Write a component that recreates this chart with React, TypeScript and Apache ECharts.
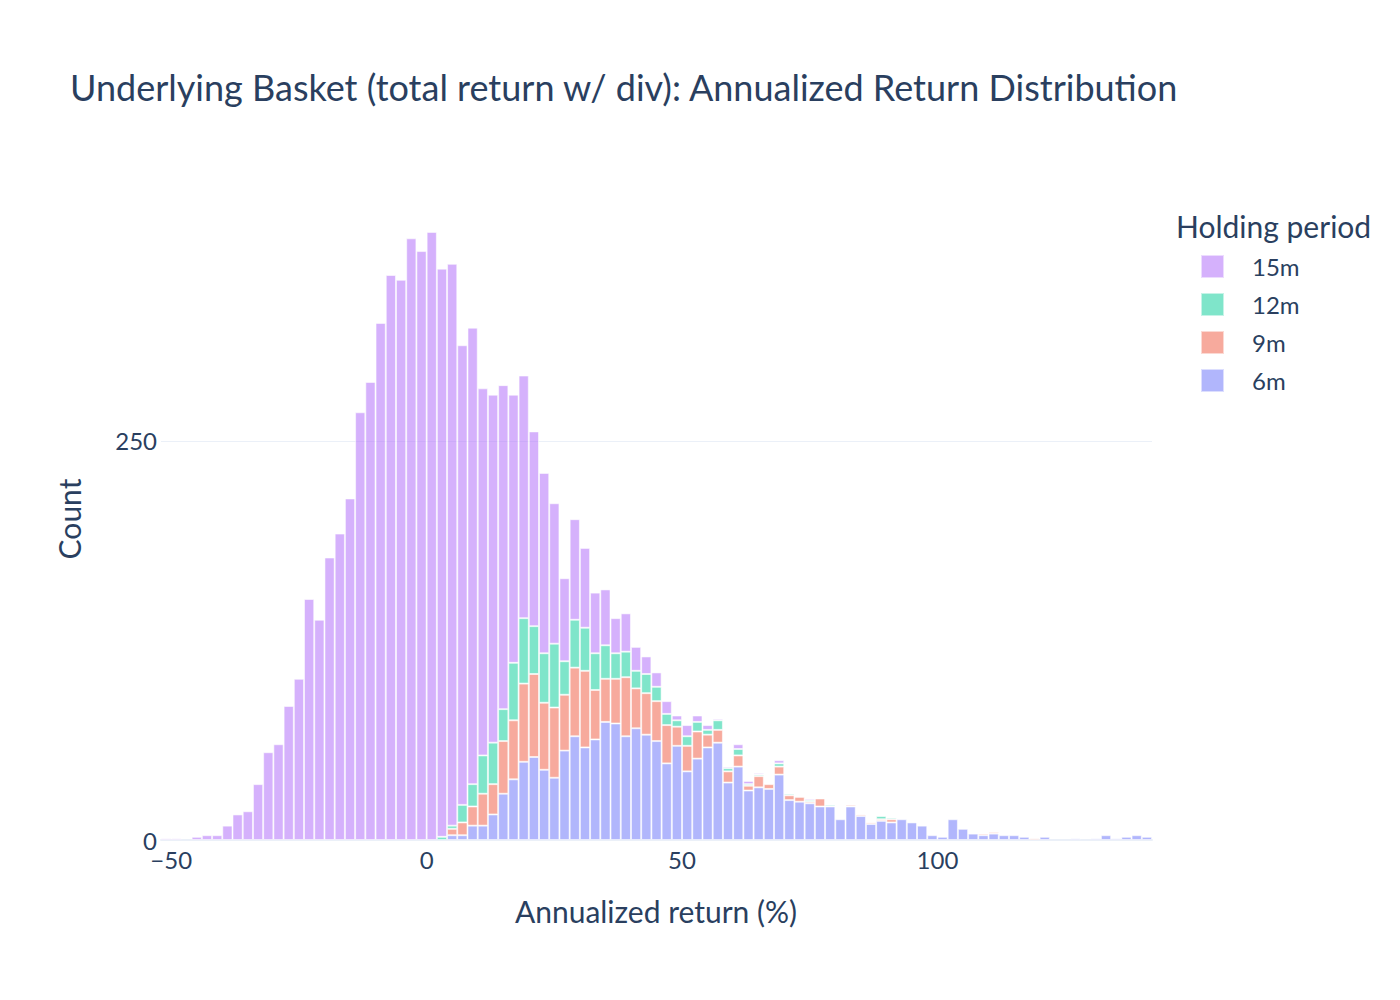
import { useEffect, useRef } from 'react';
import * as echarts from 'echarts';

// bins are 2 points wide, first bin starts at -52
const binStarts = Array.from({ length: 97 }, (_, i) => -52 + i * 2);

const periods = ['6m', '9m', '12m', '15m'];
const legendOrder = ['15m', '12m', '9m', '6m'];
const colors = ['rgba(99,110,250,0.5)', 'rgba(239,85,59,0.5)', 'rgba(0,204,150,0.5)', 'rgba(171,99,250,0.5)'];

const counts6m = [
    0, 0, 0, 0, 0, 0, 0, 0, 0, 0, 0, 0, 0, 0, 0, 0, 0, 0, 0, 0,
    0, 0, 0, 0, 0, 0, 0, 0, 3, 3, 9, 9, 16, 29, 38, 49, 52, 44, 39, 56,
    65, 58, 63, 74, 73, 65, 70, 66, 62, 48, 59, 43, 51, 58, 61, 36, 46, 31, 33, 32,
    41, 25, 24, 23, 21, 21, 13, 21, 15, 10, 12, 11, 13, 11, 9, 3, 2, 13, 7, 4,
    3, 4, 3, 3, 2, 0, 2, 0, 0, 1, 0, 1, 3, 1, 2, 3, 2,
];
const counts9m = [
    0, 0, 0, 0, 0, 0, 0, 0, 0, 0, 0, 0, 0, 0, 0, 0, 0, 0, 0, 0,
    0, 0, 0, 0, 0, 0, 0, 0, 4, 8, 12, 20, 19, 33, 37, 49, 52, 42, 44, 35,
    43, 48, 31, 27, 28, 37, 25, 26, 25, 24, 12, 16, 17, 8, 8, 7, 7, 3, 7, 3,
    5, 3, 3, 1, 5, 0, 0, 1, 1, 1, 1, 2, 0, 0, 0, 0, 0, 0, 0, 0,
    1, 1, 0, 0, 0, 1, 0, 0, 0, 0, 0, 0, 0, 0, 0, 0, 0,
];
const counts12m = [
    0, 0, 0, 0, 0, 0, 0, 0, 0, 0, 0, 0, 0, 0, 0, 0, 0, 0, 0, 0,
    0, 0, 0, 0, 0, 0, 0, 2, 2, 11, 14, 24, 26, 20, 36, 41, 30, 31, 40, 21,
    30, 27, 23, 21, 16, 16, 11, 12, 9, 7, 4, 6, 6, 3, 6, 2, 4, 1, 1, 0,
    2, 1, 0, 1, 0, 1, 0, 0, 0, 0, 2, 1, 0, 0, 0, 0, 0, 0, 0, 0,
    0, 0, 0, 0, 0, 0, 0, 0, 0, 0, 0, 0, 0, 0, 0, 0, 0,
];
const counts15m = [
    1, 1, 0, 2, 3, 3, 9, 16, 18, 35, 55, 60, 84, 101, 151, 138, 177, 192, 214, 268,
    287, 324, 354, 351, 377, 369, 381, 356, 352, 288, 286, 230, 218, 203, 168, 152, 122, 113, 88, 52,
    63, 50, 38, 35, 22, 24, 15, 11, 9, 8, 3, 7, 4, 3, 1, 1, 3, 2, 1, 0,
    2, 0, 0, 1, 0, 0, 0, 0, 0, 0, 0, 0, 0, 0, 0, 0, 0, 0, 0, 0,
    0, 0, 0, 0, 0, 0, 0, 0, 0, 0, 0, 0, 0, 0, 0, 0, 0,
];
const allCounts = [counts6m, counts9m, counts12m, counts15m];

const FONT = 'Lato, "Noto Sans", sans-serif';
const INK = '#2a3f5f';
const GRID = '#ebf0f8';

const App = () => {
    const chartRef = useRef<HTMLDivElement>(null);

    useEffect(() => {
        document.body.style.margin = '0';
        const myChart = echarts.init(chartRef.current, null, { renderer: 'svg' });

        myChart.setOption({
            animation: false,
            textStyle: { fontFamily: FONT, color: INK },
            grid: { left: 161, right: 248, top: 200, bottom: 160 },
            legend: {
                data: legendOrder,
                orient: 'vertical',
                left: 1200,
                top: 254,
                padding: 0,
                itemWidth: 23,
                itemHeight: 23,
                itemGap: 13,
                icon: 'rect',
                textStyle: { fontSize: 24, lineHeight: 23, color: INK, fontFamily: FONT, padding: [0, 0, 0, 23] },
            },
            xAxis: [
                {
                    type: 'category',
                    data: binStarts.map(String),
                    axisLabel: { show: false },
                    axisTick: { show: false },
                    axisLine: { show: false },
                },
                {
                    type: 'value',
                    min: -52,
                    max: 142,
                    splitNumber: 4,
                    position: 'bottom',
                    axisLine: { show: true, onZero: false, lineStyle: { color: GRID, width: 2 } },
                    axisTick: { show: false },
                    splitLine: { show: false },
                    axisLabel: {
                        margin: 9,
                        fontSize: 24,
                        lineHeight: 20,
                        color: INK,
                        fontFamily: FONT,
                        formatter: (v: number) => (v % 50 === 0 ? (v < 0 ? '\u2212' + Math.abs(v) : String(v)) : ''),
                    },
                },
            ],
            yAxis: {
                type: 'value',
                min: 0,
                max: 401,
                interval: 250,
                axisLine: { show: false },
                axisTick: { show: false },
                axisLabel: {
                    margin: 4,
                    fontSize: 24,
                    lineHeight: 20,
                    color: INK,
                    fontFamily: FONT,
                    showMaxLabel: false,
                    verticalAlign: 'middle',
                },
                splitLine: { lineStyle: { color: GRID, width: 1 }, showMaxLine: false },
            },
            graphic: [
                {
                    type: 'text',
                    x: 70,
                    y: 87,
                    style: {
                        text: 'Underlying Basket (total return w/ div): Annualized Return Distribution',
                        font: `36px ${FONT}`,
                        fill: INK,
                        textVerticalAlign: 'middle',
                    },
                },
                {
                    type: 'text',
                    x: 656,
                    y: 911,
                    style: {
                        text: 'Annualized return (%)',
                        font: `30px ${FONT}`,
                        fill: INK,
                        textAlign: 'center',
                        textVerticalAlign: 'middle',
                    },
                },
                {
                    type: 'text',
                    x: 69,
                    y: 519,
                    rotation: Math.PI / 2,
                    style: {
                        text: 'Count',
                        font: `30px ${FONT}`,
                        fill: INK,
                        textAlign: 'center',
                        textVerticalAlign: 'middle',
                    },
                },
                {
                    type: 'text',
                    x: 1176,
                    y: 226,
                    style: {
                        text: 'Holding period',
                        font: `30px ${FONT}`,
                        fill: INK,
                        textVerticalAlign: 'middle',
                    },
                },
            ],
            series: periods.map((name, i) => ({
                name,
                type: 'bar',
                stack: 'total',
                xAxisIndex: 0,
                barCategoryGap: 0,
                data: allCounts[i].map((c) => (c === 0 ? '-' : c)),
                itemStyle: { color: colors[i], borderColor: 'rgba(255,255,255,0.55)', borderWidth: 1 },
            })),
        });

        return () => {
            myChart.dispose();
        };
    }, []);

    return <div ref={chartRef} style={{ width: '1400px', height: '1000px' }} />;
};

export default App;
